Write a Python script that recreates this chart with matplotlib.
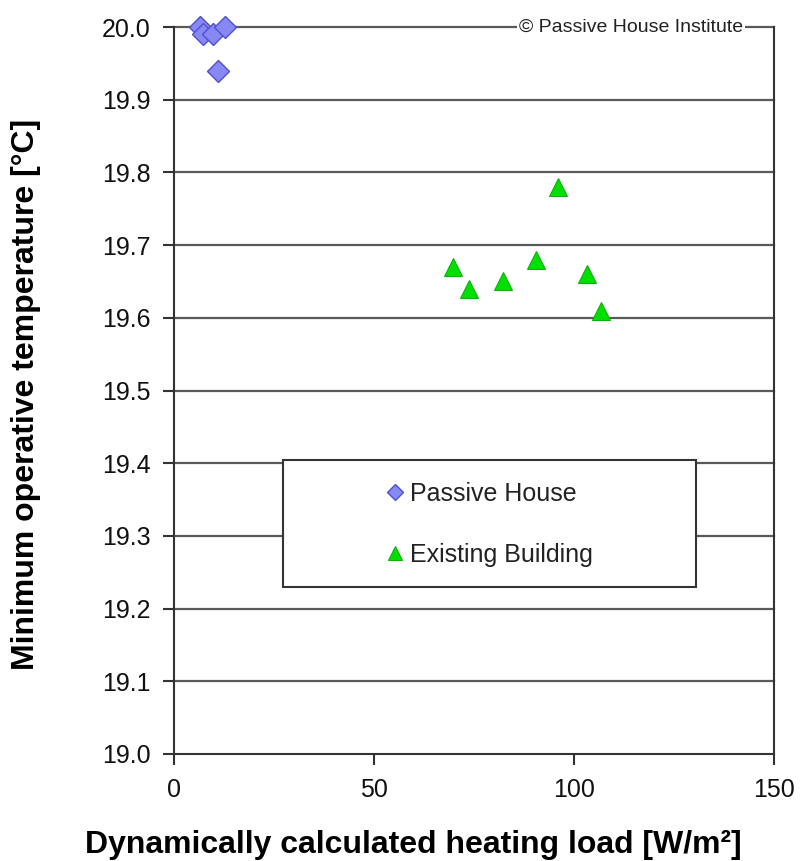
"""Minimum operative temperature vs dynamically calculated heating load."""

import matplotlib

matplotlib.use("Agg")
import matplotlib.pyplot as plt
from matplotlib.patches import Rectangle

plt.rcParams["font.family"] = ["Liberation Sans", "DejaVu Sans"]

# --- data --------------------------------------------------------------
ph_load = [6.5, 7.3, 9.8, 12.8, 11.0]
ph_temp = [20.00, 19.99, 19.99, 20.00, 19.94]

eb_load = [69.8, 73.8, 82.2, 90.6, 95.9, 103.2, 106.7]
eb_temp = [19.67, 19.64, 19.65, 19.68, 19.78, 19.66, 19.61]

x_ticks = [0, 50, 100, 150]
y_ticks = [19.0, 19.1, 19.2, 19.3, 19.4, 19.5, 19.6, 19.7, 19.8, 19.9, 20.0]


def main():
    fig = plt.figure(figsize=(8.08, 8.61), dpi=100)
    ax = fig.add_axes([0.2153, 0.1243, 0.7426, 0.8443])

    ax.set_xlim(0, 150)
    ax.set_ylim(19.0, 20.0)

    # gridlines (Excel-style, dark grey)
    for y in y_ticks[1:]:
        ax.axhline(y, color="#5a5a5a", lw=1.6, zorder=1, clip_on=False)

    ax.plot(ph_load, ph_temp, ls="none", marker="D", ms=11,
            mfc="#8888f4", mec="#5050cc", mew=1.0, label="Passive House",
            zorder=3, clip_on=False)
    ax.plot(eb_load, eb_temp, ls="none", marker="^", ms=13,
            mfc="#00e000", mec="#10b010", mew=0.8, label="Existing Building",
            zorder=3, clip_on=False)

    for side in ["left", "bottom", "right"]:
        ax.spines[side].set_color("#333333")
        ax.spines[side].set_linewidth(1.5)
    ax.spines["top"].set_visible(False)

    ax.set_xticks(x_ticks)
    ax.set_xticklabels([str(v) for v in x_ticks])
    ax.set_yticks(y_ticks)
    ax.set_yticklabels([f"{v:.1f}" for v in y_ticks])
    ax.tick_params(axis="both", direction="out", length=8, width=1.5,
                   color="#333333", labelsize=18, labelcolor="#111111")
    ax.tick_params(axis="x", pad=9)
    ax.tick_params(axis="y", pad=9)

    fig.text(0.511, 0.0186, "Dynamically calculated heating load [W/m²]",
             fontsize=23, fontweight="bold", ha="center", va="center")
    fig.text(0.032, 0.542, "Minimum operative temperature [°C]",
             fontsize=23, fontweight="bold", ha="center", va="center",
             rotation=90)

    # legend box drawn separately so its size matches the reference
    ax.add_patch(Rectangle((0.182, 0.230), 0.688, 0.174, transform=ax.transAxes,
                           facecolor="white", edgecolor="#333333", lw=1.5,
                           zorder=4))
    leg = ax.legend(loc="center", bbox_to_anchor=(0.527, 0.316),
                    frameon=False, fontsize=18, markerscale=0.75,
                    handlelength=0.6, handletextpad=0.3, labelspacing=1.5,
                    labelcolor="#222222")
    leg.set_zorder(5)

    ax.text(0.762, 1.0, "© Passive House Institute", transform=ax.transAxes,
            ha="center", va="center", fontsize=14, color="#222222", zorder=6,
            bbox=dict(facecolor="white", edgecolor="none", pad=1.5))

    fig.savefig("out.png", dpi=100)
    plt.close(fig)


if __name__ == "__main__":
    main()
